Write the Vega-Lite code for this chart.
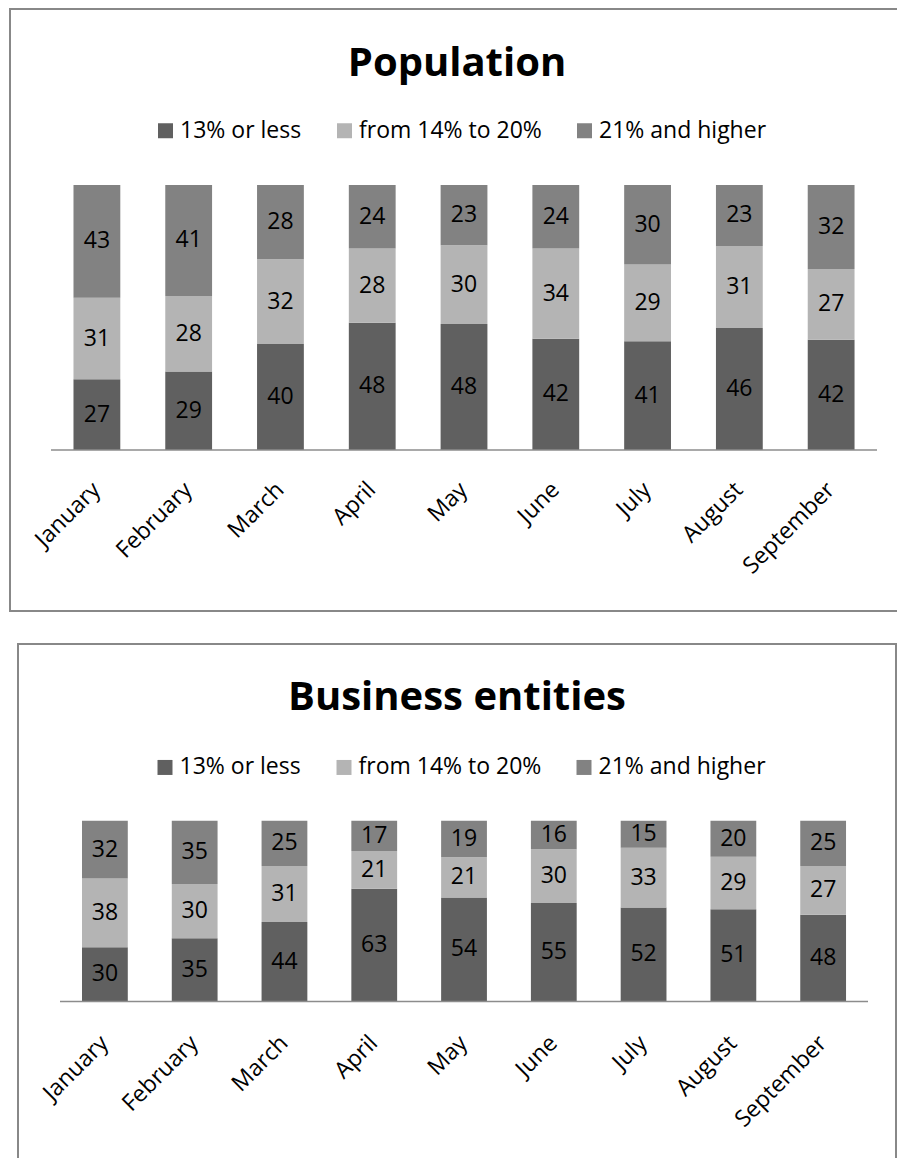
{
  "$schema": "https://vega.github.io/schema/vega-lite/v6.json",
  "padding": {"left": 9, "top": 8, "right": 0, "bottom": 0},
  "background": "white",
  "spacing": 31,
  "center": true,
  "config": {
    "view": {"stroke": "#888888", "strokeWidth": 2},
    "font": "Open Sans"
  },
  "resolve": {
    "scale": {"x": "independent", "y": "independent", "color": "independent"},
    "legend": {"color": "independent"}
  },
  "vconcat": [
    {
      "width": 894,
      "height": 602,
      "title": {"text": "Population", "font": "Open Sans", "fontSize": 40, "fontWeight": "bold", "color": "#000000", "anchor": "middle", "frame": "group", "offset": -107, "baseline": "alphabetic"},
      "data": {"values": [
        {"month": "January", "group": "13% or less", "value": 27},
        {"month": "January", "group": "from 14% to 20%", "value": 31},
        {"month": "January", "group": "21% and higher", "value": 43},
        {"month": "February", "group": "13% or less", "value": 29},
        {"month": "February", "group": "from 14% to 20%", "value": 28},
        {"month": "February", "group": "21% and higher", "value": 41},
        {"month": "March", "group": "13% or less", "value": 40},
        {"month": "March", "group": "from 14% to 20%", "value": 32},
        {"month": "March", "group": "21% and higher", "value": 28},
        {"month": "April", "group": "13% or less", "value": 48},
        {"month": "April", "group": "from 14% to 20%", "value": 28},
        {"month": "April", "group": "21% and higher", "value": 24},
        {"month": "May", "group": "13% or less", "value": 48},
        {"month": "May", "group": "from 14% to 20%", "value": 30},
        {"month": "May", "group": "21% and higher", "value": 23},
        {"month": "June", "group": "13% or less", "value": 42},
        {"month": "June", "group": "from 14% to 20%", "value": 34},
        {"month": "June", "group": "21% and higher", "value": 24},
        {"month": "July", "group": "13% or less", "value": 41},
        {"month": "July", "group": "from 14% to 20%", "value": 29},
        {"month": "July", "group": "21% and higher", "value": 30},
        {"month": "August", "group": "13% or less", "value": 46},
        {"month": "August", "group": "from 14% to 20%", "value": 31},
        {"month": "August", "group": "21% and higher", "value": 23},
        {"month": "September", "group": "13% or less", "value": 42},
        {"month": "September", "group": "from 14% to 20%", "value": 27},
        {"month": "September", "group": "21% and higher", "value": 32}
      ]},
      "transform": [
        {"calculate": "indexof(['13% or less','from 14% to 20%','21% and higher'], datum.group)", "as": "rank"}
      ],
      "layer": [
        {
          "mark": {"type": "bar"},
          "encoding": {
            "x": {
              "field": "month", "type": "nominal",
              "scale": {"domain": ["January","February","March","April","May","June","July","August","September"], "paddingInner": 0.49, "paddingOuter": 0.6153, "align": 0.5621},
              "axis": {"title": null, "orient": "bottom", "offset": -161, "domain": false, "ticks": false, "grid": false, "labelAngle": -45, "labelAlign": "right", "labelBaseline": "top", "labelPadding": 28, "labelOffset": -8, "labelFont": "Open Sans", "labelFontSize": 23, "labelColor": "#000000", "labelOverlap": false, "labelBound": false}
            },
            "y": {"field": "value", "type": "quantitative", "stack": "normalize", "scale": {"domain": [-0.6075, 1.6642], "nice": false, "zero": false}, "axis": null},
            "color": {
              "field": "group", "type": "nominal",
              "scale": {"domain": ["13% or less", "from 14% to 20%", "21% and higher"], "range": ["#606060", "#b4b4b4", "#828282"]},
              "legend": {"title": null, "orient": "none", "legendX": 144, "legendY": 110, "direction": "horizontal", "symbolType": "square", "symbolSize": 225, "symbolStrokeWidth": 0, "symbolOpacity": 1, "labelFont": "Open Sans", "labelFontSize": 23, "labelColor": "#000000", "labelOffset": 3, "columnPadding": 31, "labelLimit": 400}
            },
            "order": {"field": "rank", "type": "quantitative"}
          }
        },
        {
          "mark": {"type": "text", "font": "Open Sans", "fontSize": 23, "color": "#000000"},
          "encoding": {
            "x": {"field": "month", "type": "nominal"},
            "y": {"field": "value", "type": "quantitative", "stack": "normalize", "bandPosition": 0.5, "axis": null},
            "detail": {"field": "group", "type": "nominal"},
            "order": {"field": "rank", "type": "quantitative"},
            "text": {"field": "value", "type": "quantitative"}
          }
        },
        {
          "data": {"values": [{}]},
          "mark": {"type": "rule", "color": "#8c8c8c", "strokeWidth": 1.5},
          "encoding": {
            "x": {"datum": "January", "type": "nominal", "bandPosition": -0.4805},
            "x2": {"datum": "September", "bandPosition": 1.48},
            "y": {"datum": 0, "type": "quantitative", "axis": null}
          }
        }
      ]
    },
    {
      "width": 878,
      "height": 530,
      "title": {"text": "Business entities", "font": "Open Sans", "fontSize": 40, "fontWeight": "bold", "color": "#000000", "anchor": "middle", "frame": "group", "offset": -106, "baseline": "alphabetic"},
      "data": {"values": [
        {"month": "January", "group": "13% or less", "value": 30},
        {"month": "January", "group": "from 14% to 20%", "value": 38},
        {"month": "January", "group": "21% and higher", "value": 32},
        {"month": "February", "group": "13% or less", "value": 35},
        {"month": "February", "group": "from 14% to 20%", "value": 30},
        {"month": "February", "group": "21% and higher", "value": 35},
        {"month": "March", "group": "13% or less", "value": 44},
        {"month": "March", "group": "from 14% to 20%", "value": 31},
        {"month": "March", "group": "21% and higher", "value": 25},
        {"month": "April", "group": "13% or less", "value": 63},
        {"month": "April", "group": "from 14% to 20%", "value": 21},
        {"month": "April", "group": "21% and higher", "value": 17},
        {"month": "May", "group": "13% or less", "value": 54},
        {"month": "May", "group": "from 14% to 20%", "value": 21},
        {"month": "May", "group": "21% and higher", "value": 19},
        {"month": "June", "group": "13% or less", "value": 55},
        {"month": "June", "group": "from 14% to 20%", "value": 30},
        {"month": "June", "group": "21% and higher", "value": 16},
        {"month": "July", "group": "13% or less", "value": 52},
        {"month": "July", "group": "from 14% to 20%", "value": 33},
        {"month": "July", "group": "21% and higher", "value": 15},
        {"month": "August", "group": "13% or less", "value": 51},
        {"month": "August", "group": "from 14% to 20%", "value": 29},
        {"month": "August", "group": "21% and higher", "value": 20},
        {"month": "September", "group": "13% or less", "value": 48},
        {"month": "September", "group": "from 14% to 20%", "value": 27},
        {"month": "September", "group": "21% and higher", "value": 25}
      ]},
      "transform": [
        {"calculate": "indexof(['13% or less','from 14% to 20%','21% and higher'], datum.group)", "as": "rank"}
      ],
      "layer": [
        {
          "mark": {"type": "bar"},
          "encoding": {
            "x": {
              "field": "month", "type": "nominal",
              "scale": {"domain": ["January","February","March","April","May","June","July","August","September"], "paddingInner": 0.49, "paddingOuter": 0.6347, "align": 0.5616},
              "axis": {"title": null, "orient": "bottom", "offset": -172.6, "domain": false, "ticks": false, "grid": false, "labelAngle": -45, "labelAlign": "right", "labelBaseline": "top", "labelPadding": 30, "labelOffset": -8, "labelFont": "Open Sans", "labelFontSize": 23, "labelColor": "#000000", "labelOverlap": false, "labelBound": false}
            },
            "y": {"field": "value", "type": "quantitative", "stack": "normalize", "scale": {"domain": [-0.9552, 1.9779], "nice": false, "zero": false}, "axis": null},
            "color": {
              "field": "group", "type": "nominal",
              "scale": {"domain": ["13% or less", "from 14% to 20%", "21% and higher"], "range": ["#606060", "#b4b4b4", "#828282"]},
              "legend": {"title": null, "orient": "none", "legendX": 135.5, "legendY": 111.7, "direction": "horizontal", "symbolType": "square", "symbolSize": 225, "symbolStrokeWidth": 0, "symbolOpacity": 1, "labelFont": "Open Sans", "labelFontSize": 23, "labelColor": "#000000", "labelOffset": 3, "columnPadding": 31, "labelLimit": 400}
            },
            "order": {"field": "rank", "type": "quantitative"}
          }
        },
        {
          "mark": {"type": "text", "font": "Open Sans", "fontSize": 23, "color": "#000000"},
          "encoding": {
            "x": {"field": "month", "type": "nominal"},
            "y": {"field": "value", "type": "quantitative", "stack": "normalize", "bandPosition": 0.5, "axis": null},
            "detail": {"field": "group", "type": "nominal"},
            "order": {"field": "rank", "type": "quantitative"},
            "text": {"field": "value", "type": "quantitative"}
          }
        },
        {
          "data": {"values": [{}]},
          "mark": {"type": "rule", "color": "#8c8c8c", "strokeWidth": 1.5},
          "encoding": {
            "x": {"datum": "January", "type": "nominal", "bandPosition": -0.4805},
            "x2": {"datum": "September", "bandPosition": 1.48},
            "y": {"datum": 0, "type": "quantitative", "axis": null}
          }
        }
      ]
    }
  ]
}
